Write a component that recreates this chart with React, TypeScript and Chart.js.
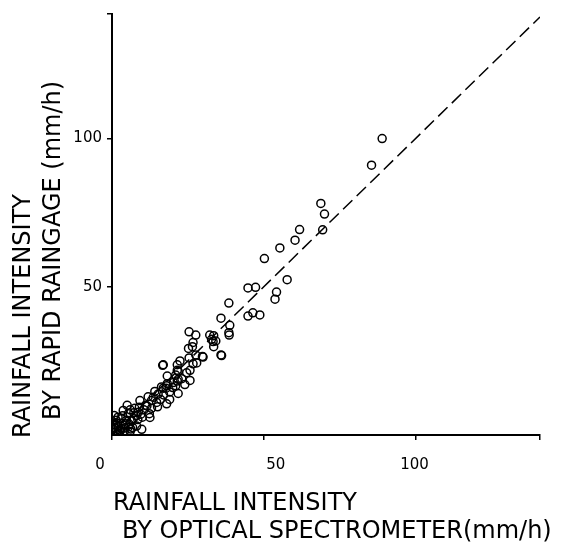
import React, { useEffect, useRef } from "react";
import { Chart, registerables } from "chart.js";

Chart.register(...registerables);

// Scatter data: optical spectrometer (x) vs rapid raingage (y), mm/h
const opticalValues = [
  89, 85.5,
  68.8, 70, 69.4,
  61.8, 60.3, 55.3, 50.2, 57.7, 54.2, 53.7,
  44.8, 47.3, 48.7, 44.8, 46.4,
  38.5, 35.9, 38.8, 38.5, 38.6,
  33.5, 32.8, 34.2, 33.5, 36.1, 30, 32.2, 33.3, 35.9,
  25.4, 27.6, 26.7, 25.2, 27.6, 26.5, 29.8, 25.4, 26.7,
  22.4, 21.5, 16.7, 27.9, 25.7, 24.6, 21.8, 16.9,
  21.5, 21, 18.2, 25.7, 21.5, 21, 21.8, 20.2, 18, 16.9,
  18.2, 17.8, 16.3, 21.8, 14.1, 15.2,
  11.9, 13.6, 13, 14.7, 18, 9.2, 9, 8.7,
  12.5, 12.3, 3.7, 5.4, 0.7, 0.4, 1.3,
  3.7, 5.4, 6.8, 8.1, 9.8, 4.8, 6.5,
  1, 2, 0.5, 2.5, 3, 1.5, 0.3, 4, 2, 6, 7, 10, 10.5, 11, 7.5, 6, 3, 2, 5, 8,
  16, 17, 19, 20, 23, 24, 19, 13, 15,
  0.8, 1.8, 2.8, 3.5, 4.5, 5.8, 7.2, 8.5, 9.5, 11.5, 1.2, 0.6, 2.2, 4.2, 6.2,
];
const raingageValues = [
  100, 91,
  78.1, 74.5, 69.2,
  69.3, 65.7, 63.1, 59.5, 52.4, 48.2, 45.8,
  49.6, 49.8, 40.5, 40.1, 41.2,
  44.5, 39.4, 37, 34.5, 33.7,
  33.5, 32.3, 31.7, 29.8, 26.8, 26.3, 33.7, 31.5, 27,
  34.8, 33.7, 31.2, 29.2, 27, 29.8, 26.5, 26, 24,
  25, 23.7, 23.5, 24.3, 21.8, 21, 21.5, 23.7,
  21.8, 20.2, 19.9, 18.4, 18.2, 16.6, 18.8, 17.7, 16.6, 15.8,
  17.3, 15.8, 16.2, 14, 14.7, 13.8,
  12.9, 12.7, 11.6, 11, 10.5, 11.6, 9.4, 7.7,
  5.9, 7.2, 8.3, 7.2, 6.6, 4.4, 3.3,
  3.3, 2.7, 2.5, 3, 1.9, 5, 4.7,
  1, 0.5, 2, 1.5, 2.2, 0.3, 0.8, 1, 3, 1.2, 5.5, 6, 8.5, 10, 9, 8.5, 5.5, 6, 10, 6.5,
  12, 13.5, 14.5, 16, 19, 17, 12, 9, 9.5,
  2.5, 4, 1.5, 6.5, 3.8, 3.5, 7.5, 5.2, 7, 9.8, 5, 3.5, 0.6, 2.4, 2,
];

// 1:1 reference line
const lineX = [0, 141];
const lineY = [0, 141];

const xTickValues = [0, 50, 100];
const yTickValues = [50, 100];
const xMax = 141;
const yMax = 142;

const xTitleLines = ["RAINFALL INTENSITY", "BY OPTICAL SPECTROMETER(mm/h)"];
const yTitleLines = ["RAINFALL INTENSITY", "BY RAPID RAINGAGE (mm/h)"];

const FONT = '"DejaVu Sans", "Liberation Sans", sans-serif';

const textPlugin = {
  id: "customText",
  afterDraw(chart: any) {
    const ctx = chart.ctx as CanvasRenderingContext2D;
    const xs = chart.scales.x;
    ctx.save();
    ctx.fillStyle = "#000";
    // x tick labels
    const shifts = [-12, 12, -1];
    ctx.font = `15px ${FONT}`;
    ctx.textAlign = "center";
    ctx.textBaseline = "middle";
    xTickValues.forEach((v, i) => {
      ctx.fillText(String(v), xs.getPixelForValue(v) + (shifts[i] || 0), 465);
    });
    // x title
    ctx.font = `24px ${FONT}`;
    ctx.textAlign = "left";
    ctx.fillText(xTitleLines[0], 113, 504);
    ctx.fillText(xTitleLines[1], 122, 532);
    // y title
    ctx.save();
    ctx.translate(24, 438);
    ctx.rotate(-Math.PI / 2);
    ctx.fillText(yTitleLines[0], 0, 0);
    ctx.restore();
    ctx.save();
    ctx.translate(54, 420);
    ctx.rotate(-Math.PI / 2);
    ctx.fillText(yTitleLines[1], 0, 0);
    ctx.restore();
    ctx.restore();
  },
};

export default function App() {
  const ref = useRef<HTMLCanvasElement | null>(null);
  useEffect(() => {
    document.body.style.margin = "0";
    const canvas = ref.current!;
    const points = opticalValues.map((x, i) => ({ x, y: raingageValues[i] }));
    const linePts = lineX.map((x, i) => ({ x, y: lineY[i] }));
    const chart = new Chart(canvas, {
      type: "scatter",
      data: {
        datasets: [
          {
            type: "line",
            data: linePts,
            borderColor: "#000",
            borderWidth: 1.5,
            borderDash: [13, 6],
            pointRadius: 0,
            fill: false,
          } as any,
          {
            data: points,
            pointRadius: 4,
            pointBorderWidth: 1.5,
            borderColor: "#000",
            backgroundColor: "rgba(0,0,0,0)",
            pointBackgroundColor: "rgba(0,0,0,0)",
          },
        ],
      },
      options: {
        responsive: false,
        animation: false,
        events: [],
        layout: { padding: { left: 0, top: 7, right: 43, bottom: 0 } },
        plugins: { legend: { display: false }, tooltip: { enabled: false }, title: { display: false } },
        scales: {
          x: {
            type: "linear",
            min: 0,
            max: xMax,
            afterFit: (s: any) => { s.height = 113; },
            afterBuildTicks: (s: any) => {
              s.ticks = [...xTickValues, xMax].map((v) => ({ value: v }));
            },
            ticks: { display: false },
            border: { display: true, color: "#000", width: 2 },
            grid: { drawOnChartArea: false, drawTicks: true, tickLength: 5, color: "#000", lineWidth: 1.5 },
          },
          y: {
            type: "linear",
            min: 0,
            max: yMax,
            afterFit: (s: any) => { s.width = 112; },
            afterBuildTicks: (s: any) => {
              s.ticks = [...yTickValues, yMax].map((v) => ({ value: v }));
            },
            ticks: {
              color: "#000",
              font: { family: FONT, size: 15 },
              padding: 5,
              callback: (v: any) => (yTickValues.includes(Number(v)) ? String(v) : ""),
            },
            border: { display: true, color: "#000", width: 2 },
            grid: { drawOnChartArea: false, drawTicks: true, tickLength: 5, color: "#000", lineWidth: 1.5 },
          },
        },
      },
      plugins: [textPlugin],
    });
    return () => chart.destroy();
  }, []);
  return (
    <div style={{ width: 583, height: 548 }}>
      <canvas ref={ref} width={583} height={548} />
    </div>
  );
}
